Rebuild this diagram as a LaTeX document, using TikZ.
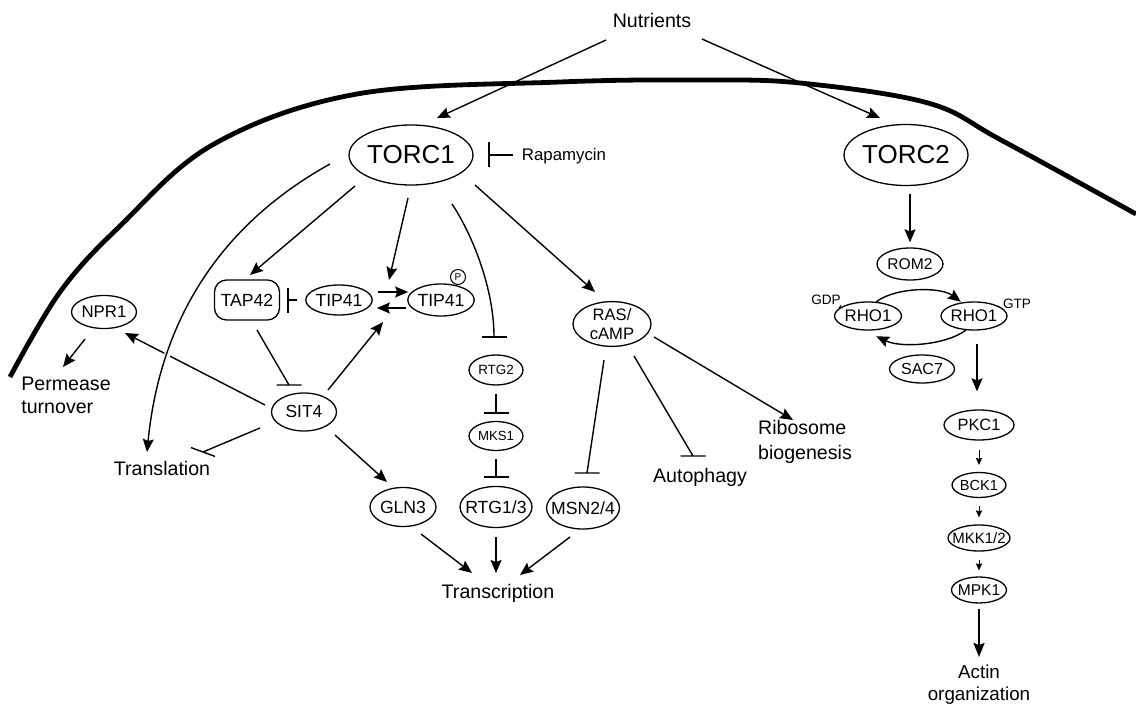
\documentclass[tikz,border=0pt]{standalone}
\usepackage{fontspec}
\setmainfont{Liberation Sans}
\usetikzlibrary{calc,arrows.meta,shapes.geometric}

\newcommand\setfs[2]{\fontsize{#1}{#2}\selectfont}

\begin{document}
\begin{tikzpicture}[x=0.5pt,y=-0.5pt,
  prot/.style={draw,ellipse,line width=0.65pt,inner sep=0pt},
  lbl/.style={inner sep=0pt,font=\setfs{9.8}{11.5}},
  act/.style={line width=0.7pt,-{Stealth[length=6.5pt,width=5.5pt,inset=1pt]}},
  inh/.style={line width=0.7pt,-{Bar[width=12.5pt,line width=0.85pt]}},
  hinh/.style={line width=0.7pt,to path={-- (\tikztotarget) +(-6.25pt,0pt) -- +(6.25pt,0pt)}},
  tinh/.style={line width=0.7pt,to path={-- (\tikztotarget) +(-6pt,2.2pt) -- +(6pt,-2.2pt)}},
  cascade/.style={line width=0.45pt,-{Stealth[length=3.5pt,width=3.2pt,inset=0.5pt]}},
  bigact/.style={line width=1pt,-{Stealth[length=7pt,width=5.5pt,inset=1pt]}}]

\useasboundingbox (0,0) rectangle (1136,706);

% cell membrane
\draw[line width=2.4pt] plot[smooth,tension=0.6] coordinates
  {(10,377) (60,292) (120,226) (214,144) (357,94) (560,82) (700,80) (800,83) (928,103) (1001,140) (1136,214)};

% outside the cell
\node[lbl] (nut) at (652,20) {Nutrients};

% the two complexes
\node[prot,minimum width=61pt,minimum height=30pt,font=\setfs{13}{15}] (torc1) at (411,155) {TORC1};
\node[prot,minimum width=61pt,minimum height=30.5pt,font=\setfs{13}{15}] (torc2) at (906,155) {TORC2};
\node[inner sep=0pt,font=\setfs{8.4}{10}] (rapa) at (564,156) {Rapamycin};

\draw[act] ($(nut)+(-46,20)$) -- ($(torc1)+(26,-37)$);
\draw[act] ($(nut)+(50,19)$) -- ($(torc2)+(-26,-37)$);
\draw[inh] ($(rapa)+(-51,-1)$) -- ($(torc1)+(77,0)$);

% TORC1 targets
\node[draw,rounded corners=6pt,line width=0.65pt,minimum width=32.5pt,minimum height=20pt,
      inner sep=0pt,font=\setfs{8.8}{10}] (tap42) at (247,300) {TAP42};
\node[prot,minimum width=31pt,minimum height=15pt,font=\setfs{8.8}{10}] (tip41a) at (339,300) {TIP41};
\node[prot,minimum width=32.5pt,minimum height=16pt,font=\setfs{8.8}{10}] (tip41b) at (441,300) {TIP41};
\node[draw,circle,fill=white,minimum size=7.5pt,inner sep=0pt,line width=0.5pt,font=\setfs{5}{5}] (phos) at (458,277) {P};
\node[prot,minimum width=32.5pt,minimum height=16.5pt,font=\setfs{8.4}{10}] (npr1) at (104,312) {NPR1};
\node[prot,minimum width=32.5pt,minimum height=19pt,font=\setfs{8.7}{10}] (sit4) at (304,412) {SIT4};
\node[lbl,align=left] (perm) at (66,395) {Permease\\turnover};
\node[lbl] (transl) at (162,468) {Translation};
\node[prot,minimum width=27pt,minimum height=15pt,font=\setfs{6.7}{8}] (rtg2) at (496,370) {RTG2};
\node[prot,minimum width=27pt,minimum height=14.5pt,font=\setfs{6.6}{8}] (mks1) at (496,436) {MKS1};
\node[prot,minimum width=33pt,minimum height=19.5pt,font=\setfs{8.8}{10}] (gln3) at (403,507) {GLN3};
\node[prot,minimum width=36pt,minimum height=20.5pt,inner xsep=-2.7pt,font=\setfs{8.8}{10}] (rtg13) at (496,507) {RTG1/3};
\node[prot,minimum width=36.5pt,minimum height=21pt,inner xsep=-3pt,font=\setfs{8.8}{10}] (msn) at (583,508) {MSN2/4};
\node[lbl] (transc) at (498,593) {Transcription};
\node[prot,minimum width=39pt,minimum height=22pt,align=center,font=\setfs{8.3}{9.75}] (ras) at (612,324) {RAS/\\cAMP};
\node[lbl] (autoph) at (700,477) {Autophagy};
\node[lbl,align=left,font=\setfs{9.8}{12.5}] (ribo) at (805,442) {Ribosome\\biogenesis};

\draw[act] ($(torc1)+(-56,31)$) -- ($(tap42)+(3,-25)$);
\draw[act] ($(torc1)+(-3,43)$) -- ($(tip41a)+(50,-20)$);
\draw[inh] ($(torc1)+(41,49)$) .. controls +(20,30) and +(0,-50) .. ($(rtg2)+(-2,-32)$);
\draw[act] ($(torc1)+(64,30)$) -- ($(ras)+(-17,-32)$);

% TIP41 cycle
\draw[act] ($(tip41a.east)+(5,-8)$) -- ($(tip41b.west)+(1,-8)$);
\draw[act] ($(tip41b.west)+(-1,8)$) -- ($(tip41a.east)+(4,8)$);
\draw[inh] ($(tip41a.west)+(-8,0)$) -- ($(tap42.east)+(7,0)$);

% SIT4 outputs
\draw[hinh] ($(tap42)+(10,30)$) to ($(sit4)+(-15,-27)$);
\draw[act] ($(sit4)+(24,-22)$) -- ($(tip41a)+(44,22)$);
\draw[act] ($(sit4)+(-39,-7)$) -- ($(npr1)+(21,21)$);
\draw[tinh] ($(sit4)+(-44,16)$) to ($(transl)+(41,-16)$);
\draw[act] ($(sit4)+(31,23)$) -- ($(gln3)+(-16,-25)$);
\draw[act] ($(npr1)+(-19,27)$) -- ($(perm)+(-3,-28)$);

% TORC1 to translation, crossing over
\draw[white,line width=3pt] ($(torc1)+(-81,9)$) .. controls +(-110,61) and +(13,-132) .. ($(transl)+(-15,-16)$);
\draw[act] ($(torc1)+(-81,9)$) .. controls +(-110,61) and +(13,-132) .. ($(transl)+(-15,-16)$);

% retrograde branch
\draw[inh] ($(rtg2.south)+(0,8)$) -- ($(mks1.north)+(0,-7)$);
\draw[inh] ($(mks1.south)+(0,8)$) -- ($(rtg13.north)+(0,-8)$);

% transcription
\draw[act] ($(gln3)+(18,27)$) -- ($(transc)+(-26,-20)$);
\draw[act] ($(rtg13)+(0,30)$) -- ($(transc)+(-2,-20)$);
\draw[act] ($(msn)+(-13,29)$) -- ($(transc)+(22,-18)$);

% RAS/cAMP outputs
\draw[hinh] ($(ras)+(-8,36)$) to ($(msn)+(4,-35)$);
\draw[hinh] ($(ras)+(22,32)$) to ($(autoph)+(-7,-21)$);
\draw[act] ($(ras)+(42,13)$) -- ($(ribo)+(-12,-22)$);

% TORC2 branch
\node[prot,minimum width=33pt,minimum height=16pt,font=\setfs{7.8}{9}] (rom2) at (910,264) {ROM2};
\node[prot,minimum width=33.5pt,minimum height=14pt,font=\setfs{8.4}{9}] (rho1a) at (868,316) {RHO1};
\node[prot,minimum width=32.5pt,minimum height=14pt,font=\setfs{8.4}{9}] (rho1b) at (974,316) {RHO1};
\node[inner sep=0pt,font=\setfs{6.8}{7}] (gdp) at (826,300) {GDP};
\node[inner sep=0pt,font=\setfs{6.8}{7}] (gtp) at (1017,304) {GTP};
\node[prot,minimum width=32.5pt,minimum height=14pt,font=\setfs{8}{9}] (sac7) at (922,369) {SAC7};
\node[prot,minimum width=35pt,minimum height=15pt,font=\setfs{8.2}{9}] (pkc1) at (979,425) {PKC1};
\node[prot,minimum width=26pt,minimum height=12.5pt,font=\setfs{7.3}{8}] (bck1) at (979,485) {BCK1};
\node[prot,minimum width=31pt,minimum height=13pt,inner xsep=-2.4pt,font=\setfs{7.5}{8}] (mkk) at (979,538) {MKK1/2};
\node[prot,minimum width=27.5pt,minimum height=13pt,inner xsep=-1pt,font=\setfs{7.8}{8}] (mpk1) at (979,590) {MPK1};
\node[lbl,align=center,anchor=north,font=\setfs{9.4}{11}] (actin) at (979,664) {Actin\\organization};

\draw[act] ($(torc2.south)+(4,8)$) -- ($(rom2.north)+(0,-5)$);
\draw[act] (rho1a.60) .. controls +(20,-15) and +(-20,-15) .. ($(rho1b.120)+(-5,0)$);
\draw[act] (rho1b.240) .. controls +(-20,15) and +(25,12) .. ($(rho1a.300)+(0,6)$);
\draw[line width=0.5pt] (gdp.south east) -- (rho1a.165);
\draw[line width=0.5pt] (gtp.south west) -- (rho1b.15);
\draw[act] ($(pkc1.north |- rho1b.south)+(-2,13)$) -- ($(pkc1.north)+(-2,-18)$);

% MAP kinase cascade
\draw[cascade] ($(pkc1.south)+(0,9)$) -- ($(bck1.north)+(0,-7)$);
\draw[cascade] ($(bck1.south)+(0,8)$) -- ($(mkk.north)+(0,-7)$);
\draw[cascade] ($(mkk.south)+(0,8)$) -- ($(mpk1.north)+(0,-6)$);
\draw[bigact] ($(mpk1.south)+(0,5)$) -- ($(actin.north)+(0,-7)$);

\end{tikzpicture}
\end{document}
